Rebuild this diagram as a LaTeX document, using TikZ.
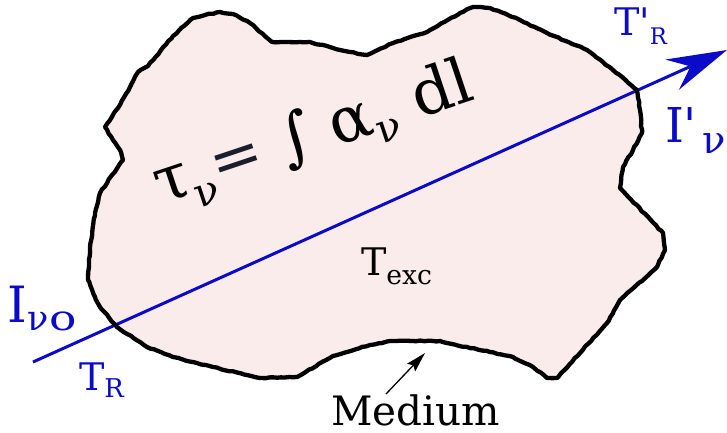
\documentclass[tikz,border=0pt]{standalone}
\usepackage{fontspec}
\setmainfont{DejaVu Serif}[Ligatures=TeXOff]
\usepackage{graphicx}
\usetikzlibrary{arrows.meta,decorations.pathmorphing}
\definecolor{medfill}{RGB}{251,236,236}
\definecolor{rayblue}{RGB}{10,10,200}
\definecolor{eqnavy}{RGB}{25,30,45}
\newcommand\fs[1]{\fontsize{#1}{#1}\selectfont}
\newcommand\lowsub[3]{\raisebox{-#1}{\scalebox{#2}{#3}}}
\def\medpath{(105,127) -- (118,108) -- (130,87) -- (138,72) -- (148,66) -- (173,36) -- (193,18) -- (205,15) -- (220,12) -- (233,14) -- (250,23) -- (272,42) -- (310,42) -- (333,48) -- (350,52) -- (367,55) -- (393,43) -- (427,32) -- (460,13) -- (473,7) -- (490,8) -- (520,20) -- (547,33) -- (587,50) -- (613,70) -- (637,90) -- (640,110) -- (642,133) -- (633,150) -- (623,167) -- (620,188) -- (663,233) -- (665,250) -- (657,267) -- (620,300) -- (607,323) -- (557,378) -- (547,378) -- (533,367) -- (513,357) -- (490,352) -- (447,343) -- (440,341) -- (390,341) -- (370,345) -- (333,356) -- (297,377) -- (260,378) -- (213,367) -- (173,357) -- (147,347) -- (117,327) -- (100,307) -- (95,297) -- (88,280) -- (90,247) -- (95,213) -- (100,193) -- (112,175) -- (123,160) -- (120,150) -- (113,140) -- cycle}
\begin{document}
\begin{tikzpicture}[x=1pt,y=-1pt,
  lbl/.style={inner sep=0pt, outer sep=0pt, anchor=base west},
  bluelbl/.style={lbl, text=rayblue},
  outline/.style={line width=4.3pt, line join=round, line cap=round,
    decorate, decoration={random steps, segment length=4pt, amplitude=0.5pt}},
  ray/.style={rayblue, line width=3pt, -{Stealth[length=60pt,width=33pt,inset=20pt]}},
  pointer/.style={black, line width=1.3pt, -{Stealth[length=20pt,width=11pt,inset=3pt]}}]
\useasboundingbox (0,0) rectangle (727,432);
\pgfmathsetseed{7}
\fill[medfill] \medpath;
\coordinate (raystart) at (33,362);
\coordinate (raytip) at (727,50);
\draw[ray] (raystart) -- (raytip);
\draw[outline] \medpath;
\node[lbl, rotate=18.5, anchor=base] (eq) at (319,152)
  {\fs{63}τ\lowsub{0.25em}{0.64}{ν}\textcolor{eqnavy}{=} ∫ α\lowsub{0.2em}{0.64}{ν} dl};
\node[lbl] (texc) at (361,275) {\fs{38}T\lowsub{0.26em}{0.7}{exc}};
\node[bluelbl] (i0) at (8,322) {\fs{50}I\lowsub{0.16em}{0.7}{ν\scalebox{1.3}[1]{o}}};
\node[bluelbl] (tr) at (79,390) {\fs{38}T\lowsub{0.21em}{0.68}{R}};
\node[bluelbl] (trp) at (614,35) {\fs{38}T'\lowsub{0.26em}{0.6}{R}};
\node[bluelbl] (ip) at (665,142) {\fs{48}I'\hspace{5pt}\lowsub{0.23em}{0.8}{ν}};
\node[lbl] (medium) at (331,425) {\fs{40.5}Medium};
\coordinate (medtail) at (386,394);
\coordinate (medtip) at (425,353);
\draw[pointer] (medtail) -- (medtip);
\end{tikzpicture}
\end{document}
